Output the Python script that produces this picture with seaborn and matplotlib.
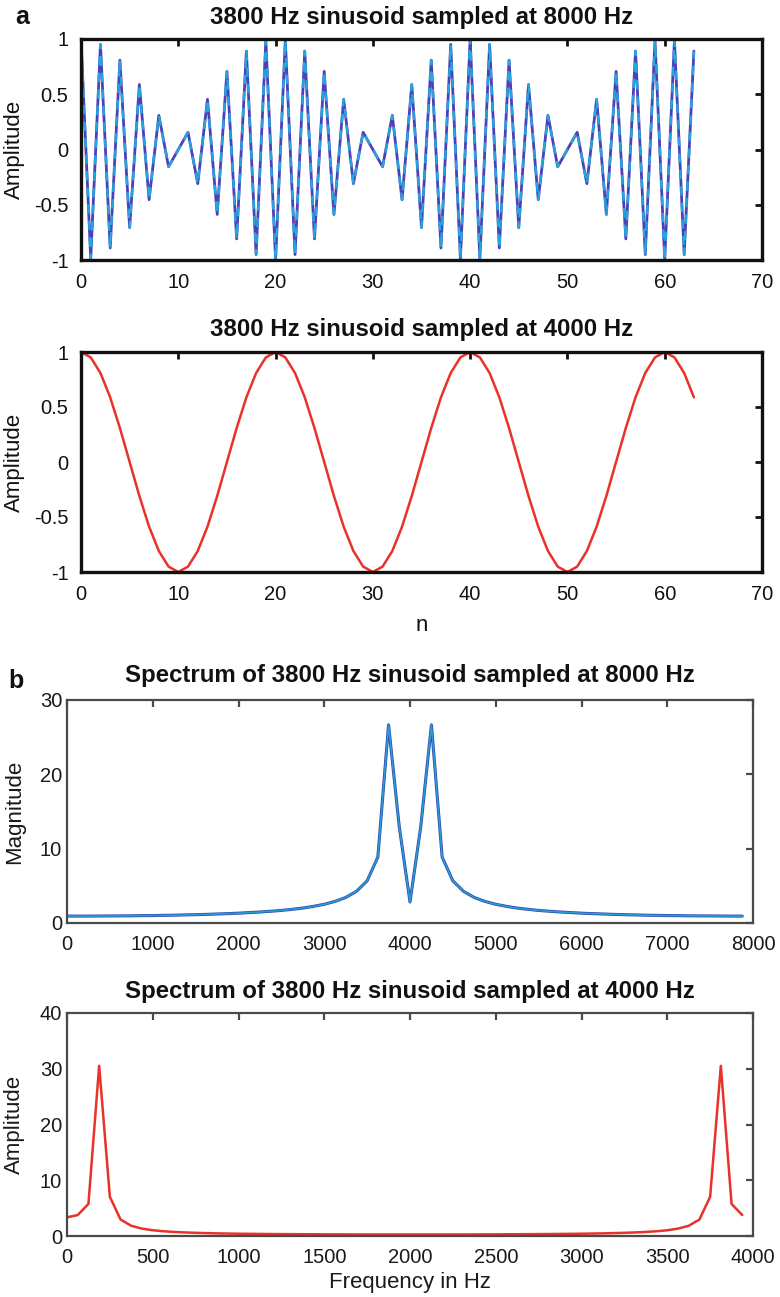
import numpy as np
import pandas as pd
import matplotlib
matplotlib.use("Agg")
import matplotlib.pyplot as plt
import seaborn as sns

# ---- data ----
n_idx = np.arange(64)

amp_8k = [1.0, -0.988, 0.951, -0.891, 0.809, -0.707, 0.588, -0.454, 0.309, -0.156,
          0.0, 0.156, -0.309, 0.454, -0.588, 0.707, -0.809, 0.891, -0.951, 0.988,
          -1.0, 0.988, -0.951, 0.891, -0.809, 0.707, -0.588, 0.454, -0.309, 0.156,
          0.0, -0.156, 0.309, -0.454, 0.588, -0.707, 0.809, -0.891, 0.951, -0.988,
          1.0, -0.988, 0.951, -0.891, 0.809, -0.707, 0.588, -0.454, 0.309, -0.156,
          0.0, 0.156, -0.309, 0.454, -0.588, 0.707, -0.809, 0.891, -0.951, 0.988,
          -1.0, 0.988, -0.951, 0.891]

amp_4k = [1.0, 0.951, 0.809, 0.588, 0.309, 0.0, -0.309, -0.588, -0.809, -0.951,
          -1.0, -0.951, -0.809, -0.588, -0.309, 0.0, 0.309, 0.588, 0.809, 0.951,
          1.0, 0.951, 0.809, 0.588, 0.309, 0.0, -0.309, -0.588, -0.809, -0.951,
          -1.0, -0.951, -0.809, -0.588, -0.309, 0.0, 0.309, 0.588, 0.809, 0.951,
          1.0, 0.951, 0.809, 0.588, 0.309, 0.0, -0.309, -0.588, -0.809, -0.951,
          -1.0, -0.951, -0.809, -0.588, -0.309, 0.0, 0.309, 0.588, 0.809, 0.951,
          1.0, 0.951, 0.809, 0.588]

freq_8k = np.arange(64) * 125
mag_8k = [0.93, 0.93, 0.93, 0.94, 0.95, 0.96, 0.97, 0.99, 1.00, 1.03,
          1.05, 1.09, 1.12, 1.16, 1.21, 1.26, 1.32, 1.40, 1.48, 1.58,
          1.69, 1.84, 2.01, 2.24, 2.52, 2.90, 3.43, 4.25, 5.67, 8.87,
          26.66, 12.92, 2.83, 12.92, 26.66, 8.87, 5.67, 4.25, 3.43, 2.90,
          2.52, 2.24, 2.01, 1.84, 1.69, 1.58, 1.48, 1.40, 1.32, 1.26,
          1.21, 1.16, 1.12, 1.09, 1.05, 1.03, 1.00, 0.99, 0.97, 0.96,
          0.95, 0.94, 0.93, 0.93]

freq_4k = np.arange(64) * 62.5
mag_4k = [3.35, 3.76, 5.75, 30.53, 7.02, 2.95, 1.83, 1.32, 1.03, 0.85,
          0.73, 0.64, 0.57, 0.52, 0.47, 0.44, 0.41, 0.39, 0.37, 0.35,
          0.34, 0.33, 0.32, 0.31, 0.30, 0.29, 0.285, 0.28, 0.276, 0.274,
          0.272, 0.271, 0.270, 0.271, 0.272, 0.274, 0.276, 0.28, 0.285, 0.29,
          0.30, 0.31, 0.32, 0.33, 0.34, 0.35, 0.37, 0.39, 0.41, 0.44,
          0.47, 0.52, 0.57, 0.64, 0.73, 0.85, 1.03, 1.32, 1.83, 2.95,
          7.02, 30.53, 5.75, 3.76]

titles = ["3800 Hz sinusoid sampled at 8000 Hz",
          "3800 Hz sinusoid sampled at 4000 Hz",
          "Spectrum of 3800 Hz sinusoid sampled at 8000 Hz",
          "Spectrum of 3800 Hz sinusoid sampled at 4000 Hz"]

# ---- styling ----
sns.set_style("white")
plt.rcParams['font.family'] = ['Liberation Sans', 'DejaVu Sans']

W, H = 780, 1297
fig = plt.figure(figsize=(W / 100, H / 100), dpi=100)


def box(l, r, t, b):
    return [l / W, 1 - b / H, (r - l) / W, (b - t) / H]


ax1 = fig.add_axes(box(81, 762, 39, 260))
ax2 = fig.add_axes(box(81, 762, 352, 572))
ax3 = fig.add_axes(box(67, 753, 700, 923))
ax4 = fig.add_axes(box(67, 753, 1013, 1236))

df1 = pd.DataFrame({"n": n_idx, "amp": amp_8k})
df2 = pd.DataFrame({"n": n_idx, "amp": amp_4k})
df3 = pd.DataFrame({"f": freq_8k, "mag": mag_8k})
df4 = pd.DataFrame({"f": freq_4k, "mag": mag_4k})

sns.lineplot(data=df1, x="n", y="amp", ax=ax1, color="#4f3fb8", lw=2.0,
             sort=False, errorbar=None)
sns.lineplot(data=df1, x="n", y="amp", ax=ax1, color="#22a6dc", lw=1.7,
             sort=False, errorbar=None, linestyle=(0, (4, 3)))
sns.lineplot(data=df2, x="n", y="amp", ax=ax2, color="#e8322a", lw=1.8,
             sort=False, errorbar=None)
sns.lineplot(data=df3, x="f", y="mag", ax=ax3, color="#2a4aa8", lw=2.2,
             sort=False, errorbar=None)
sns.lineplot(data=df3, x="f", y="mag", ax=ax3, color="#2b9ad8", lw=1.2,
             sort=False, errorbar=None)
sns.lineplot(data=df4, x="f", y="mag", ax=ax4, color="#e8322a", lw=1.8,
             sort=False, errorbar=None)

for ax in (ax1, ax2):
    ax.set_xlim(0, 70)
    ax.set_ylim(-1, 1)
    ax.set_xticks(range(0, 71, 10))
    ax.set_yticks([-1, -0.5, 0, 0.5, 1])
    ax.set_yticklabels(["-1", "-0.5", "0", "0.5", "1"])
    for s in ax.spines.values():
        s.set_color("#111111")
        s.set_linewidth(2.4)
        s.set_visible(True)
    ax.tick_params(direction="in", top=True, right=True, length=5, width=2.0,
                   labelsize=14.5, colors="#111111")
    ax.tick_params(axis="y", pad=9)
    ax.tick_params(axis="x", pad=9)
    ax.set_ylabel("Amplitude", fontsize=16, color="#111111")
    ax.yaxis.set_label_coords(-0.082, 0.5)
    ax.set_xlabel("")

ax2.set_xlabel("n", fontsize=16, color="#111111", labelpad=8)

ax3.set_xlim(0, 8000)
ax3.set_ylim(0, 30)
ax3.set_xticks(range(0, 8001, 1000))
ax3.set_yticks([0, 10, 20, 30])
ax4.set_xlim(0, 4000)
ax4.set_ylim(0, 40)
ax4.set_xticks(range(0, 4001, 500))
ax4.set_yticks([0, 10, 20, 30, 40])

for ax, lab in ((ax3, "Magnitude"), (ax4, "Amplitude")):
    for s in ax.spines.values():
        s.set_color("#4a4a4a")
        s.set_linewidth(1.6)
        s.set_visible(True)
    ax.tick_params(direction="in", top=True, right=True, length=5, width=1.6,
                   labelsize=14.5, colors="#4a4a4a", labelcolor="#1a1a1a")
    ax.tick_params(axis="y", pad=3.5)
    ax.tick_params(axis="x", pad=8.5)
    ax.set_ylabel(lab, fontsize=16, color="#1a1a1a")
    ax.yaxis.set_label_coords(-0.061, 0.5)
    ax.set_xlabel("")

ax4.set_xlabel("Frequency in Hz", fontsize=16, color="#1a1a1a", labelpad=4)

for ax, t, p in ((ax1, titles[0], 10.8), (ax2, titles[1], 11.5),
                 (ax3, titles[2], 13), (ax4, titles[3], 10.8)):
    ax.set_title(t, fontsize=17.3, fontweight="bold", color="#111111", pad=p)
    ax.set_facecolor("white")

fig.text(15 / W, 1 - 24 / H, "a", fontsize=18, fontweight="bold", color="#111111")
fig.text(8 / W, 1 - 688 / H, "b", fontsize=18, fontweight="bold", color="#111111")

fig.savefig("out.png", dpi=100, facecolor="white")
